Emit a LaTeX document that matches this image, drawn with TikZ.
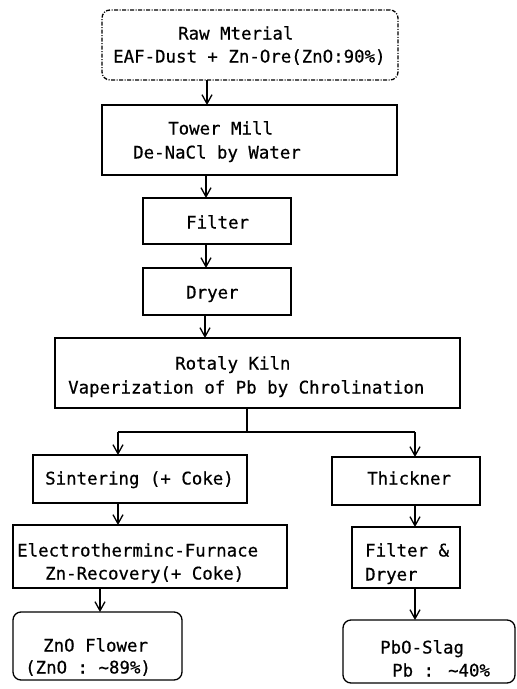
\documentclass[tikz,border=0pt]{standalone}
\usepackage{fontspec}
\newfontfamily\reffont{DejaVu Sans Mono}[FakeBold=0.6]
\usetikzlibrary{arrows.meta}
\begin{document}
\begin{tikzpicture}[x=1pt,y=-1pt,
 box/.style={draw, line width=1.3pt, rectangle, inner sep=0pt, outer sep=0pt, anchor=north west},
 rbox/.style={box, rounded corners=8pt},
 dbox/.style={rbox, dash pattern=on 4pt off 1.5pt on 1pt off 1.5pt},
 lbl/.style={anchor=base west, inner sep=0pt, font=\reffont\fontsize{17.4}{20}\selectfont},
 flow/.style={line width=1.3pt, -{Straight Barb[length=9pt,width=10pt,line width=1.3pt]}},
 link/.style={line width=1.3pt}]
\useasboundingbox (0,0) rectangle (517,689);
% boxes
\node[dbox, minimum width=296pt, minimum height=70pt] (raw) at (102,10) {};
\node[box, minimum width=295pt, minimum height=70pt] (tower) at (102,105) {};
\node[box, minimum width=148pt, minimum height=46pt] (filter) at (143,198) {};
\node[box, minimum width=148pt, minimum height=47pt] (dryer) at (143,268) {};
\node[box, minimum width=405pt, minimum height=70pt] (kiln) at (55,338) {};
\node[box, minimum width=214pt, minimum height=48pt] (sinter) at (33,455) {};
\node[box, minimum width=148pt, minimum height=48pt] (thick) at (332,457) {};
\node[box, minimum width=274pt, minimum height=63pt] (electro) at (13,525) {};
\node[box, minimum width=108pt, minimum height=61pt] (fd) at (352,527) {};
\node[rbox, minimum width=169pt, minimum height=68pt] (zno) at (13,612) {};
\node[rbox, minimum width=172pt, minimum height=63pt] (pbo) at (343,620) {};
% texts
\node[lbl] (t1) at (178,39.5) {Raw Mterial};
\node[lbl] (t2) at (113,62.5) {EAF-Dust + Zn-Ore(ZnO:90\%)};
\node[lbl] (t3) at (168,134.5) {Tower Mill};
\node[lbl] (t4) at (133,158.5) {De-NaCl by Water};
\node[lbl] (t5) at (186,228.5) {Filter};
\node[lbl] (t6) at (186,298.5) {Dryer};
\node[lbl] (t7) at (175,369.5) {Rotaly Kiln};
\node[lbl] (t8) at (68,393.5) {Vaperization of Pb by Chrolination};
\node[lbl] (t9) at (45,484.5) {Sintering (+ Coke)};
\node[lbl] (t10) at (367,484.5) {Thickner};
\node[lbl] (t11) at (17,556.5) {Electrotherminc-Furnace};
\node[lbl] (t12) at (45,579.5) {Zn-Recovery(+ Coke)};
\node[lbl] (t13) at (365,556.5) {Filter \&};
\node[lbl] (t14) at (365,580.5) {Dryer};
\node[lbl] (t15) at (43,651.5) {ZnO Flower};
\node[lbl] (t16) at (25,673.5) {(ZnO : \textasciitilde 89\%)};
\node[lbl] (t17) at (380,653.5) {PbO-Slag};
\node[lbl] (t18) at (392,676.5) {Pb : \textasciitilde 40\%};
% connector x positions
\coordinate (a1) at (207,0);
\coordinate (a2) at (206,0);
\coordinate (a3) at (205,0);
\coordinate (j) at (247,432);
\coordinate (bl) at (118,432);
\coordinate (br) at (415,432);
\coordinate (a4) at (100,0);
% connectors
\draw[flow] (raw.south -| a1) -- (tower.north -| a1);
\draw[flow] (tower.south -| a2) -- (filter.north -| a2);
\draw[flow] (filter.south -| a2) -- (dryer.north -| a2);
\draw[flow] (dryer.south -| a3) -- (kiln.north -| a3);
\draw[link] (kiln.south -| j) -- (j);
\draw[link] (bl) -- (br);
\draw[flow] (bl) -- (bl |- sinter.north);
\draw[flow] (br) -- (br |- thick.north);
\draw[flow] (sinter.south -| bl) -- (electro.north -| bl);
\draw[flow] (electro.south -| a4) -- (zno.north -| a4);
\draw[flow] (thick.south -| br) -- (fd.north -| br);
\draw[flow] (fd.south -| br) -- (pbo.north -| br);
\end{tikzpicture}
\end{document}
